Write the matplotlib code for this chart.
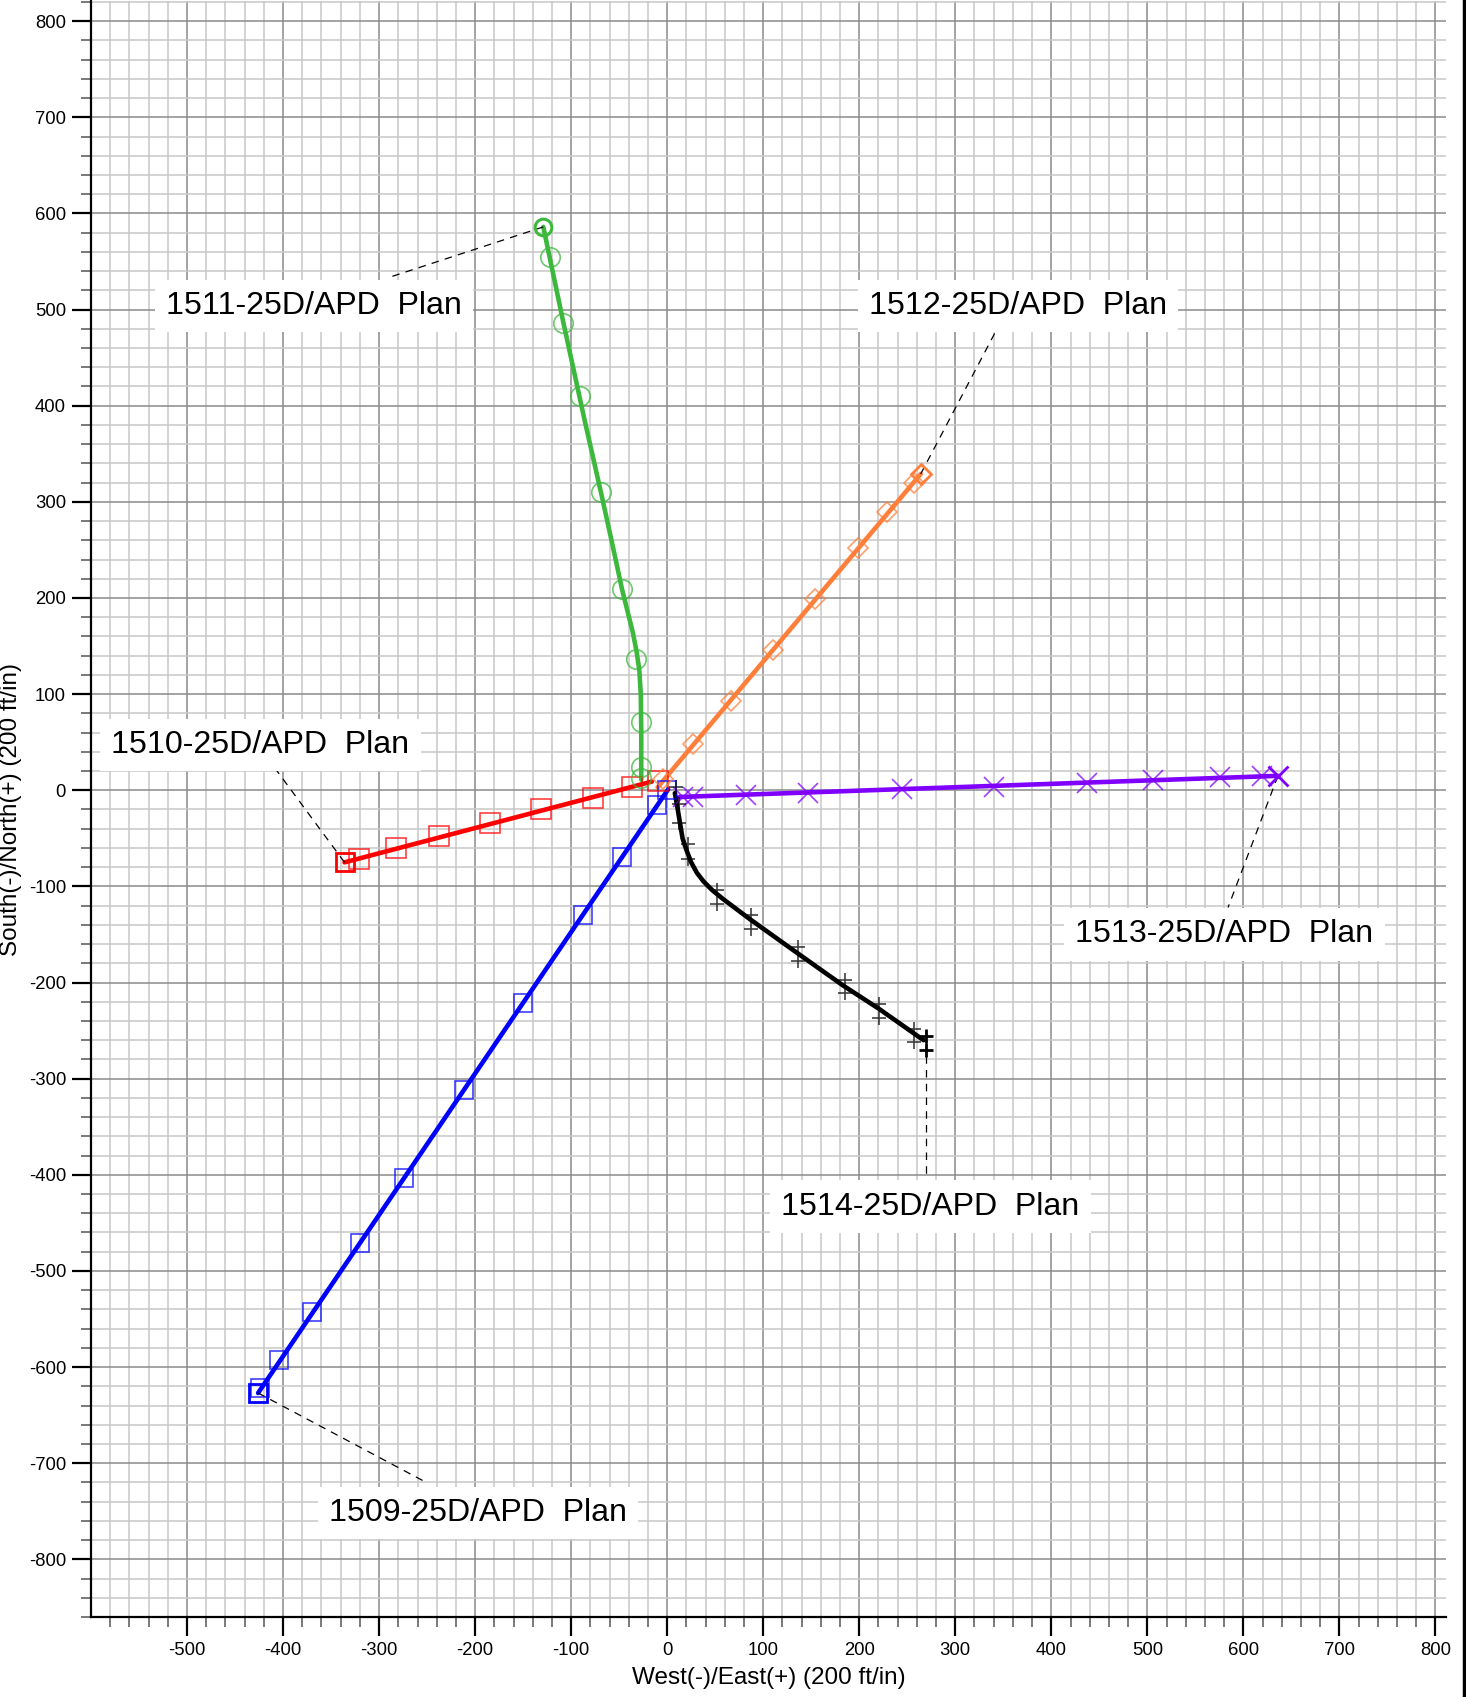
import matplotlib
matplotlib.use("Agg")
import matplotlib.pyplot as plt
from matplotlib.lines import Line2D
import numpy as np

plt.rcParams['font.family'] = ['Liberation Sans', 'DejaVu Sans']

# ---------------- data (ft) ----------------
# 1509 (blue)
w1509_path_x = [1, -426]
w1509_path_y = [1, -627]
w1509_mk_x = [0, -11, -47, -88, -150, -212, -274, -320, -370, -404, -424]
w1509_mk_y = [0, -15, -69, -130, -221, -312, -403, -471, -543, -593, -622]
w1509_end = (-426, -627)

# 1510 (red)
w1510_path_x = [-16, -336]
w1510_path_y = [9, -75]
w1510_mk_x = [-10, -37, -77, -131, -184, -238, -282, -321]
w1510_mk_y = [10, 3, -8, -20, -34, -48, -60, -71]
w1510_end = (-336, -75)

# 1511 (green)
w1511_path_x = [-27, -27, -27.5, -29, -32, -36, -41, -47, -58, -69, -86, -108, -129]
w1511_path_y = [11, 60, 100, 125, 145, 165, 185, 209, 260, 310, 385, 486, 586]
w1511_mk_x = [-27, -27, -27, -32, -47, -69, -91, -108, -122]
w1511_mk_y = [13, 24, 71, 137, 209, 310, 410, 486, 555]
w1511_end = (-129, 586)

# 1512 (orange)
w1512_path_x = [-10, 264]
w1512_path_y = [3, 329]
w1512_mk_x = [-4, 27, 66, 110, 154, 199, 229, 257]
w1512_mk_y = [12, 48, 93, 146, 199, 252, 289, 320]
w1512_end = (264, 329)

# 1513 (purple)
w1513_path_x = [13, 636]
w1513_path_y = [-7, 15]
w1513_mk_x = [16, 27, 82, 147, 245, 340, 437, 506, 576, 619]
w1513_mk_y = [-7, -7, -5, -3, 1, 3, 8, 11, 13.5, 15]
w1513_end = (636, 15)

# 1514 (black)
w1514_path_x = [8, 11, 13.5, 16, 20, 25, 31, 38, 47, 58, 70, 86, 135, 183, 220, 267]
w1514_path_y = [-3, -20, -35, -50, -62, -75, -86, -95, -104, -113, -122, -134, -169, -203, -227, -260]
w1514_mk_x = [9, 12, 12, 22, 22, 52, 52, 87, 87, 136, 136, 185, 185, 221, 221, 257, 257]
w1514_mk_y = [3, -14, -34, -56, -71, -104, -118, -130, -144, -163, -178, -197, -211, -222, -237, -248, -262]
w1514_end_x = [270, 270]
w1514_end_y = [-256, -270]

# labels: text, text anchor (left, center), leader line start (well end), leader line end
label_texts = ["1509-25D/APD  Plan", "1510-25D/APD  Plan", "1511-25D/APD  Plan",
               "1512-25D/APD  Plan", "1513-25D/APD  Plan", "1514-25D/APD  Plan"]
label_x = [-352, -579, -522, 210, 425, 119]
label_y = [-752, 47, 504, 504, -150, -433]
leader_x0 = [-426, -336, -129, 264, 636, 269]
leader_y0 = [-627, -75, 586, 329, 15, -262]
leader_x1 = [-249, -407, -288, 343, 584, 269]
leader_y1 = [-721, 21, 534, 479, -122, -400]

x_major = np.arange(-500, 801, 100)
y_major = np.arange(-800, 801, 100)

# ---------------- figure ----------------
W, H = 1466, 1697
fig = plt.figure(figsize=(W / 100, H / 100), dpi=100)
ax = fig.add_axes([91 / W, 80 / H, (1446 - 91) / W, (1696 - 80) / H])
ax.set_xlim(-600, 811)
ax.set_ylim(-860, 821)

# grid
ax.set_xticks(x_major)
ax.set_yticks(y_major)
ax.set_xticks(np.arange(-580, 811, 20), minor=True)
ax.set_yticks(np.arange(-860, 821, 20), minor=True)
ax.grid(which='minor', color='#c8c8c8', lw=1.1)
ax.grid(which='major', color='#8a8a8a', lw=1.1)
ax.set_axisbelow(True)

for s in ['top', 'right']:
    ax.spines[s].set_visible(False)
for s in ['left', 'bottom']:
    ax.spines[s].set_linewidth(1.6)
    ax.spines[s].set_zorder(5)

ax.tick_params(which='major', length=14, width=1.6, direction='out', labelsize=13.3, pad=4)
ax.tick_params(which='minor', length=7, width=1.1, direction='out', color='#555555')
ax.set_xticklabels([str(v) for v in x_major])
ax.set_yticklabels([str(v) for v in y_major])

ax.set_xlabel("West(-)/East(+) (200 ft/in)", fontsize=17.5, labelpad=6)
ax.set_ylabel("South(-)/North(+) (200 ft/in)", fontsize=17.5, labelpad=5)

def well(px, py, mx, my, ex, ey, color, marker, ms, mew_small, mew_end, ms_end):
    ax.plot(px, py, color=color, lw=3.3, solid_capstyle='round',
            solid_joinstyle='round', zorder=3)
    ax.plot(mx, my, ls='none', marker=marker, ms=ms, mfc='none', mec=color,
            mew=mew_small, alpha=0.75, zorder=4)
    ax.plot(ex, ey, ls='none', marker=marker, ms=ms_end, mfc='none', mec=color,
            mew=mew_end, zorder=4)

well(w1509_path_x, w1509_path_y, w1509_mk_x, w1509_mk_y, [w1509_end[0]], [w1509_end[1]],
     '#0000ff', 's', 13.5, 1.2, 2.0, 13.5)
well(w1510_path_x, w1510_path_y, w1510_mk_x, w1510_mk_y, [w1510_end[0]], [w1510_end[1]],
     '#ff0000', 's', 14, 1.2, 2.0, 13.5)
well(w1511_path_x, w1511_path_y, w1511_mk_x, w1511_mk_y, [w1511_end[0]], [w1511_end[1]],
     '#3cb93c', 'o', 14, 1.2, 2.2, 12)
well(w1512_path_x, w1512_path_y, w1512_mk_x, w1512_mk_y, [w1512_end[0]], [w1512_end[1]],
     '#ff7f3a', 'D', 10.5, 1.2, 2.0, 10.5)
well(w1513_path_x, w1513_path_y, w1513_mk_x, w1513_mk_y, [w1513_end[0]], [w1513_end[1]],
     '#8000ff', 'x', 14, 1.2, 2.0, 15)
well(w1514_path_x, w1514_path_y, w1514_mk_x, w1514_mk_y, w1514_end_x, w1514_end_y,
     '#000000', '+', 10, 1.2, 2.0, 10)

for t, tx, ty, x0, y0, x1, y1 in zip(label_texts, label_x, label_y,
                                     leader_x0, leader_y0, leader_x1, leader_y1):
    ax.plot([x0, x1], [y0, y1], color='black', lw=0.9, ls=(0, (6, 5)), zorder=3)
    ax.text(tx, ty, t, ha='left', va='center', fontsize=23.1, zorder=6,
            bbox=dict(boxstyle='square,pad=0.35', fc='white', ec='none'))

# right border line of the frame
fig.add_artist(Line2D([0.9985, 0.9985], [0, 1], transform=fig.transFigure,
                      color='black', lw=2.5))

fig.savefig("out.png", dpi=100)
